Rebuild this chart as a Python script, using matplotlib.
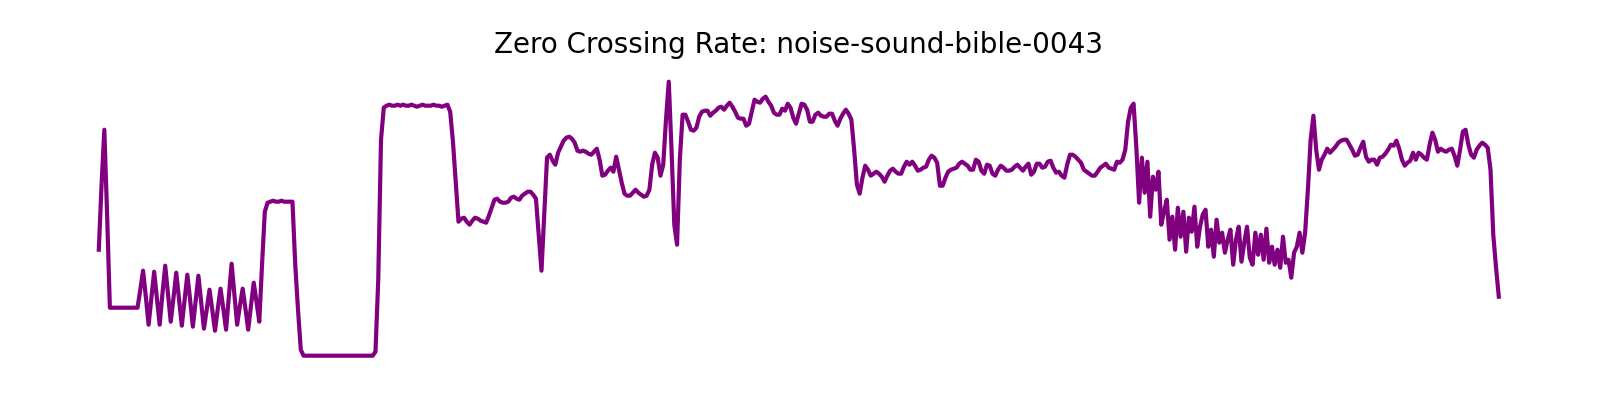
import matplotlib
matplotlib.use("Agg")
import matplotlib.pyplot as plt

title = "Zero Crossing Rate: noise-sound-bible-0043"

# zero crossing rate per frame
zcr = [
    0.120, 0.185, 0.240, 0.155, 0.062, 0.062, 0.062, 0.062, 0.062, 0.062,
    0.062, 0.062, 0.062, 0.062, 0.062, 0.080, 0.099, 0.073, 0.045, 0.072,
    0.098, 0.072, 0.045, 0.076, 0.104, 0.076, 0.048, 0.072, 0.097, 0.071,
    0.044, 0.070, 0.095, 0.070, 0.043, 0.068, 0.094, 0.068, 0.041, 0.060,
    0.080, 0.060, 0.039, 0.061, 0.081, 0.061, 0.040, 0.073, 0.106, 0.076,
    0.045, 0.064, 0.081, 0.061, 0.040, 0.064, 0.087, 0.068, 0.048, 0.105,
    0.158, 0.167, 0.168, 0.169, 0.168, 0.168, 0.169, 0.168, 0.168, 0.168,
    0.168, 0.105, 0.060, 0.020, 0.014, 0.014, 0.014, 0.014, 0.014, 0.014,
    0.014, 0.014, 0.014, 0.014, 0.014, 0.014, 0.014, 0.014, 0.014, 0.014,
    0.014, 0.014, 0.014, 0.014, 0.014, 0.014, 0.014, 0.014, 0.014, 0.014,
    0.018, 0.090, 0.230, 0.262, 0.264, 0.265, 0.264, 0.264, 0.265, 0.264,
    0.265, 0.264, 0.264, 0.265, 0.264, 0.263, 0.264, 0.265, 0.264, 0.264,
    0.264, 0.265, 0.264, 0.264, 0.263, 0.264, 0.265, 0.258, 0.228, 0.188,
    0.148, 0.151, 0.152, 0.148, 0.145, 0.149, 0.152, 0.151, 0.149, 0.148,
    0.147, 0.154, 0.162, 0.170, 0.171, 0.168, 0.167, 0.167, 0.168, 0.172,
    0.173, 0.171, 0.170, 0.174, 0.176, 0.178, 0.178, 0.175, 0.171, 0.135,
    0.099, 0.155, 0.212, 0.215, 0.209, 0.205, 0.217, 0.223, 0.229, 0.232,
    0.233, 0.231, 0.227, 0.219, 0.218, 0.219, 0.218, 0.216, 0.215, 0.218,
    0.221, 0.210, 0.194, 0.195, 0.199, 0.202, 0.198, 0.213, 0.200, 0.187,
    0.176, 0.174, 0.174, 0.177, 0.180, 0.177, 0.175, 0.173, 0.174, 0.180,
    0.205, 0.217, 0.212, 0.194, 0.205, 0.250, 0.288, 0.220, 0.145, 0.125,
    0.210, 0.255, 0.255, 0.248, 0.240, 0.239, 0.242, 0.253, 0.258, 0.259,
    0.259, 0.254, 0.257, 0.259, 0.262, 0.263, 0.260, 0.264, 0.267, 0.263,
    0.258, 0.252, 0.251, 0.251, 0.244, 0.246, 0.258, 0.270, 0.268, 0.267,
    0.271, 0.273, 0.268, 0.264, 0.257, 0.255, 0.255, 0.261, 0.259, 0.266,
    0.262, 0.252, 0.246, 0.256, 0.266, 0.265, 0.260, 0.248, 0.248, 0.255,
    0.257, 0.254, 0.253, 0.253, 0.256, 0.256, 0.249, 0.244, 0.251, 0.256,
    0.260, 0.256, 0.250, 0.220, 0.185, 0.176, 0.192, 0.204, 0.200, 0.194,
    0.196, 0.198, 0.196, 0.193, 0.188, 0.194, 0.199, 0.201, 0.198, 0.196,
    0.196, 0.203, 0.208, 0.205, 0.208, 0.204, 0.199, 0.200, 0.202, 0.203,
    0.210, 0.214, 0.212, 0.207, 0.184, 0.184, 0.192, 0.198, 0.200, 0.201,
    0.202, 0.206, 0.208, 0.206, 0.204, 0.200, 0.200, 0.210, 0.208, 0.199,
    0.196, 0.205, 0.204, 0.196, 0.194, 0.200, 0.204, 0.202, 0.199, 0.199,
    0.200, 0.203, 0.205, 0.202, 0.199, 0.203, 0.206, 0.195, 0.198, 0.206,
    0.206, 0.202, 0.203, 0.208, 0.209, 0.202, 0.197, 0.198, 0.194, 0.192,
    0.205, 0.215, 0.215, 0.213, 0.210, 0.207, 0.200, 0.198, 0.196, 0.194,
    0.194, 0.198, 0.202, 0.204, 0.206, 0.202, 0.201, 0.200, 0.208, 0.207,
    0.210, 0.220, 0.248, 0.262, 0.266, 0.222, 0.167, 0.212, 0.177, 0.208,
    0.153, 0.193, 0.180, 0.198, 0.145, 0.158, 0.170, 0.130, 0.153, 0.120,
    0.162, 0.133, 0.158, 0.118, 0.152, 0.138, 0.163, 0.123, 0.143, 0.155,
    0.160, 0.123, 0.140, 0.113, 0.150, 0.127, 0.137, 0.117, 0.130, 0.140,
    0.105, 0.130, 0.143, 0.108, 0.127, 0.143, 0.112, 0.105, 0.137, 0.115,
    0.135, 0.110, 0.141, 0.107, 0.123, 0.105, 0.120, 0.102, 0.133, 0.107,
    0.110, 0.092, 0.117, 0.123, 0.137, 0.117, 0.137, 0.180, 0.230, 0.254,
    0.220, 0.200, 0.210, 0.215, 0.221, 0.217, 0.220, 0.223, 0.227, 0.229,
    0.230, 0.230, 0.225, 0.220, 0.214, 0.215, 0.222, 0.228, 0.213, 0.208,
    0.210, 0.210, 0.205, 0.212, 0.213, 0.216, 0.220, 0.225, 0.224, 0.229,
    0.221, 0.210, 0.204, 0.207, 0.209, 0.217, 0.210, 0.217, 0.215, 0.212,
    0.210, 0.225, 0.237, 0.230, 0.218, 0.221, 0.219, 0.218, 0.220, 0.221,
    0.214, 0.204, 0.220, 0.238, 0.240, 0.225, 0.215, 0.212, 0.220, 0.224,
    0.227, 0.225, 0.222, 0.200, 0.135, 0.102, 0.073,
]
frames = list(range(len(zcr)))

fig = plt.figure(figsize=(16, 4), dpi=100)
ax = fig.add_axes([0.018, 0.0765, 0.9625, 0.7535])

ax.plot(frames, zcr, color="purple", linewidth=3)
ax.set_title(title, fontsize=20, pad=11)
ax.axis("off")

fig.savefig("out.png", dpi=100)
